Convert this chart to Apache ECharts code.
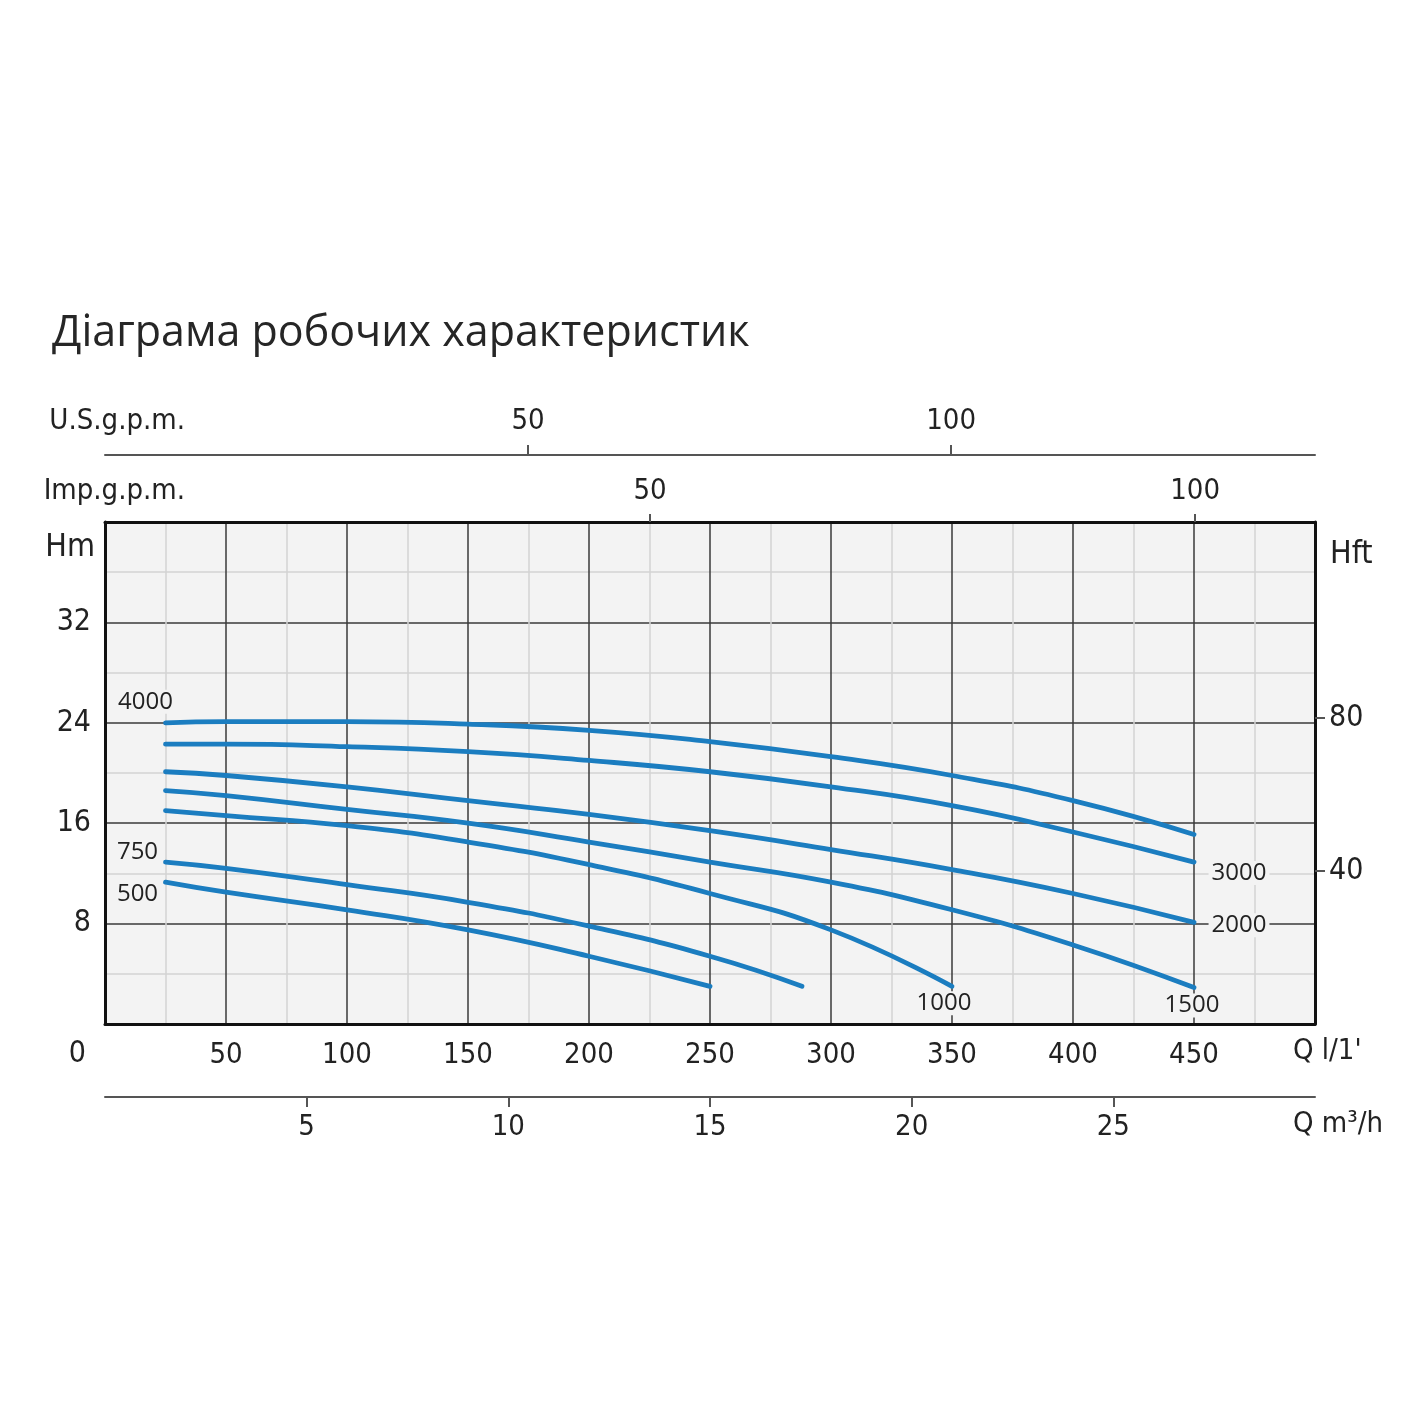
<!DOCTYPE html>
<html>
<head>
<meta charset="utf-8">
<title>Діаграма робочих характеристик</title>
<script src="https://cdn.jsdelivr.net/npm/echarts@6/dist/echarts.min.js"></script>
<style>
html, body { margin: 0; padding: 0; background: #fff; }
#main { width: 1425px; height: 1425px; }
</style>
</head>
<body>
<div id="main"></div>
<script>
// криві Q (л/хв) - H (м)
var curve4000 = [[25, 24.0], [50, 24.1], [100, 24.1], [150, 23.9], [200, 23.4], [250, 22.5], [300, 21.3], [350, 19.8], [400, 17.8], [450, 15.1]];
var curve3000 = [[25, 22.3], [50, 22.3], [100, 22.1], [150, 21.7], [200, 21.0], [250, 20.1], [300, 18.9], [350, 17.4], [400, 15.3], [450, 12.9]];
var curve2000 = [[25, 20.1], [50, 19.8], [100, 18.9], [150, 17.8], [200, 16.7], [250, 15.4], [300, 13.9], [350, 12.3], [400, 10.4], [450, 8.1]];
var curve1500 = [[25, 18.6], [50, 18.2], [100, 17.1], [150, 16.0], [200, 14.5], [250, 12.9], [300, 11.3], [350, 9.1], [400, 6.3], [450, 2.9]];
var curve1000 = [[25, 17.0], [50, 16.6], [100, 15.8], [150, 14.5], [200, 12.7], [250, 10.4], [300, 7.5], [350, 3.0]];
var curve750 = [[25, 12.9], [50, 12.4], [100, 11.1], [150, 9.7], [200, 7.8], [250, 5.4], [288, 3.0]];
var curve500 = [[25, 11.3], [50, 10.5], [100, 9.1], [150, 7.5], [200, 5.4], [250, 3.0]];

// підписи осей
var flowTicks = [50, 100, 150, 200, 250, 300, 350, 400, 450];
var m3hTicks = [5, 10, 15, 20, 25];
var impTicks = [50, 100];
var usTicks = [50, 100];
var headTicks = [0, 8, 16, 24, 32];
var feetTicks = [40, 80];

var narrow = "'Liberation Sans Narrow', 'DejaVu Sans Condensed', sans-serif";
var ink = '#222';
var fs = 29;

// де стоїть назва кривої: індекс точки і зсув підпису
function curveSeries(name, pts, at, offset) {
    var idx = at === 'last' ? pts.length - 1 : 0;
    return {
        name: name,
        type: 'line',
        smooth: 0.5,
        symbol: 'circle',
        symbolSize: 2,
        showSymbol: true,
        showAllSymbol: true,
        itemStyle: { color: 'rgba(0,0,0,0)' },
        lineStyle: { color: '#1b7dc0', width: 4.8, cap: 'round' },
        silent: true,
        z: 5,
        data: pts.map(function (p, i) {
            var d = { value: p };
            if (i === idx) {
                d.label = {
                    show: true,
                    formatter: name,
                    position: 'inside',
                    offset: offset,
                    color: ink,
                    fontFamily: "'Open Sans', sans-serif",
                    fontSize: 24,
                    backgroundColor: '#f3f3f3',
                    padding: [0, 3]
                };
            }
            return d;
        })
    };
}

var myChart = echarts.init(document.getElementById('main'));

var option = {
    backgroundColor: '#fff',
    animation: false,
    title: {
        text: 'Діаграма робочих характеристик',
        left: 47,
        top: 307,
        textStyle: { fontFamily: "'Open Sans', sans-serif", fontSize: 43, fontWeight: 'normal', color: '#262626' }
    },
    grid: {
        left: 105, top: 522, width: 1210, height: 502,
        show: true, backgroundColor: '#f3f3f3', borderWidth: 0
    },
    xAxis: [
        {
            // Q л/хв
            type: 'value', position: 'bottom', min: 0, max: 500, interval: 50,
            axisLine: { show: true, onZero: false, lineStyle: { color: '#111', width: 3 } },
            axisTick: { show: false },
            minorTick: { show: false, splitNumber: 2 },
            splitLine: { show: true, lineStyle: { color: '#3a3a3a', width: 1.5 } },
            minorSplitLine: { show: true, lineStyle: { color: '#d4d4d4', width: 1.5 } },
            axisLabel: { customValues: flowTicks, margin: 17, fontSize: fs, color: ink, fontFamily: narrow },
            name: "Q l/1'", nameLocation: 'end', nameGap: -22,
            nameTextStyle: { fontSize: fs, color: ink, fontFamily: narrow, align: 'left', verticalAlign: 'top', padding: [13, 0, 0, 0] }
        },
        {
            // Q м3/год
            type: 'value', position: 'bottom', offset: 73, min: 0, max: 30, interval: 5,
            axisLine: { show: true, onZero: false, lineStyle: { color: '#555', width: 2 } },
            axisTick: { show: true, customValues: m3hTicks, length: 10, lineStyle: { color: '#555', width: 2 } },
            splitLine: { show: false },
            axisLabel: { customValues: m3hTicks, margin: 16, fontSize: fs, color: ink, fontFamily: narrow },
            name: 'Q m³/h', nameLocation: 'end', nameGap: -22,
            nameTextStyle: { fontSize: fs, color: ink, fontFamily: narrow, align: 'left', verticalAlign: 'top', padding: [13, 0, 0, 0] }
        },
        {
            // Imp. галони/хв
            type: 'value', position: 'top', min: 0, max: 111,
            axisLine: { show: true, onZero: false, lineStyle: { color: '#111', width: 3 } },
            axisTick: { show: true, customValues: impTicks, length: 8, lineStyle: { color: '#555', width: 2 } },
            splitLine: { show: false },
            axisLabel: { customValues: impTicks, margin: 16, fontSize: fs, color: ink, fontFamily: narrow },
            name: 'Imp.g.p.m.', nameLocation: 'start', nameGap: -80,
            nameTextStyle: { fontSize: fs, color: ink, fontFamily: narrow, align: 'right', verticalAlign: 'bottom', padding: [0, 0, 16, 0] }
        },
        {
            // U.S. галони/хв
            type: 'value', position: 'top', offset: 67, min: 0, max: 143,
            axisLine: { show: true, onZero: false, lineStyle: { color: '#555', width: 2 } },
            axisTick: { show: true, customValues: usTicks, length: 10, lineStyle: { color: '#555', width: 2 } },
            splitLine: { show: false },
            axisLabel: { customValues: usTicks, margin: 19, fontSize: fs, color: ink, fontFamily: narrow },
            name: 'U.S.g.p.m.', nameLocation: 'start', nameGap: -80,
            nameTextStyle: { fontSize: fs, color: ink, fontFamily: narrow, align: 'right', verticalAlign: 'bottom', padding: [0, 0, 19, 0] }
        }
    ],
    yAxis: [
        {
            // H м
            type: 'value', position: 'left', min: 0, max: 40, interval: 8,
            axisLine: { show: true, onZero: false, lineStyle: { color: '#111', width: 3 } },
            axisTick: { show: false },
            minorTick: { show: false, splitNumber: 2 },
            splitLine: { show: true, lineStyle: { color: '#3a3a3a', width: 1.5 } },
            minorSplitLine: { show: true, lineStyle: { color: '#d4d4d4', width: 1.5 } },
            axisLabel: {
                customValues: headTicks, margin: 14, fontSize: 30, color: ink, fontFamily: narrow,
                formatter: function (v) { return v === 0 ? '{z|0}' : String(v); },
                rich: { z: { fontSize: 30, color: ink, fontFamily: narrow, padding: [60, 5, 0, 0] } }
            },
            name: 'Hm', nameLocation: 'end', nameGap: -26,
            nameTextStyle: { fontSize: 32, color: ink, fontFamily: narrow, align: 'right', verticalAlign: 'middle', padding: [0, 10, 0, 0] }
        },
        {
            // H фути
            type: 'value', position: 'right', min: 0, max: 131.2,
            axisLine: { show: true, onZero: false, lineStyle: { color: '#111', width: 3 } },
            axisTick: { show: true, customValues: feetTicks, length: 10, lineStyle: { color: '#555', width: 2 } },
            splitLine: { show: false },
            axisLabel: { customValues: feetTicks, margin: 14, fontSize: 30, color: ink, fontFamily: narrow },
            name: 'Hft', nameLocation: 'end', nameGap: -33,
            nameTextStyle: { fontSize: 32, color: ink, fontFamily: narrow, align: 'left', verticalAlign: 'middle', padding: [0, 0, 0, 15] }
        }
    ],
    series: [
        curveSeries('4000', curve4000, 'first', [-20, -21]),
        curveSeries('3000', curve3000, 'last', [45, 11]),
        curveSeries('2000', curve2000, 'last', [45, 3]),
        curveSeries('1500', curve1500, 'last', [-2, 18]),
        curveSeries('1000', curve1000, 'last', [-8, 17]),
        curveSeries('750', curve750, 'first', [-28, -10]),
        curveSeries('500', curve500, 'first', [-28, 12])
    ]
};

myChart.setOption(option);
</script>
</body>
</html>
